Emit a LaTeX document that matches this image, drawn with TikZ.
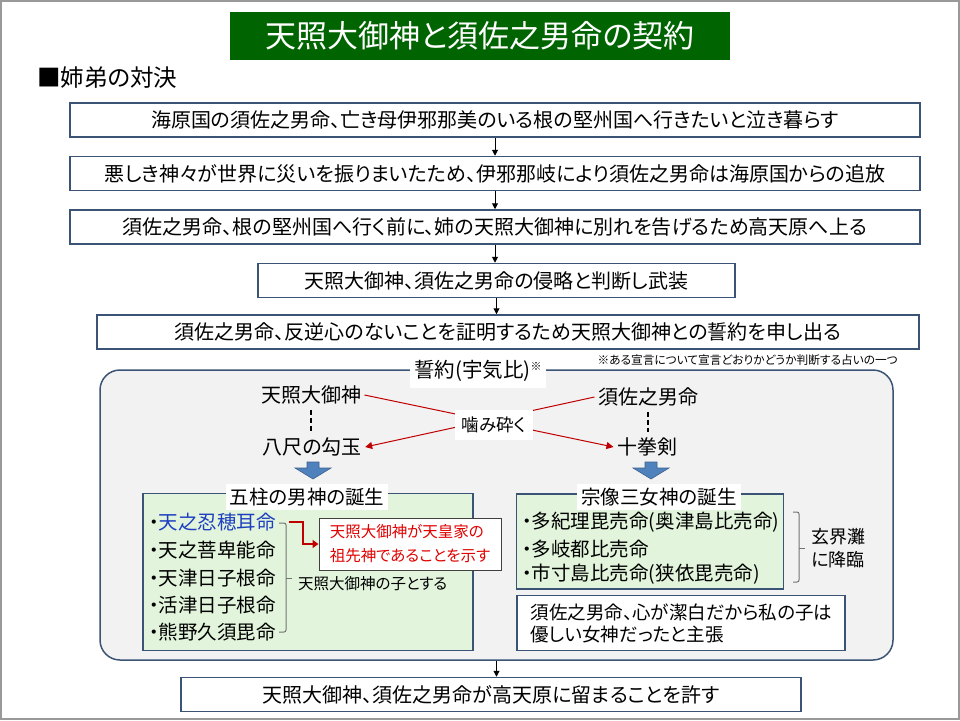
\documentclass[tikz,border=0pt]{standalone}
\usepackage{fontspec}
\setmainfont[RawFeature=+palt]{Noto Sans CJK JP}
\usetikzlibrary{arrows.meta, positioning}

\definecolor{titlegreen}{HTML}{006400}
\definecolor{frameblue}{HTML}{3B5475}
\definecolor{panelgray}{HTML}{F2F2F2}
\definecolor{leafgreen}{HTML}{E2F5DC}
\definecolor{arrowblue}{HTML}{4F81BD}
\definecolor{darkred}{HTML}{C00000}
\definecolor{brightred}{HTML}{E00000}
\definecolor{nameblue}{HTML}{1F3FC0}

\begin{document}
\begin{tikzpicture}[
    x=1pt, y=-1pt,
    font=\fontsize{20}{24}\selectfont,
    node distance=18pt,
    flow/.style={-{Triangle[length=6pt,width=6pt]}, line width=1pt},
    stepbox/.style={
        draw=frameblue,
        line width=1.5pt,
        fill=white,
        minimum height=34pt,
        minimum width=#1,
        inner sep=0pt
    },
    stepbox/.default=850pt,
    tag/.style={
        fill=white,
        inner sep=4pt,
        font=\fontsize{19.5}{23}\selectfont
    },
    leafbox/.style={
        draw=frameblue,
        line width=1.2pt,
        fill=leafgreen,
        inner sep=0pt
    },
    item/.style={
        anchor=west,
        inner sep=2pt,
        font=\fontsize{19.5}{23}\selectfont
    },
    redline/.style={
        draw=darkred,
        line width=1pt,
        -{Triangle[length=7pt,width=7pt]}
    },
    bracketline/.style={
        draw=black!55,
        line width=1pt,
        rounded corners=2pt
    },
    blockarrow/.style={
        fill=arrowblue,
        draw=arrowblue!75!black,
        line width=0.6pt
    }
]

\useasboundingbox (0,0) rectangle (960,720);
\draw[black!40, line width=2pt] (1,1) rectangle (959,719);

% title and heading
\node[fill=titlegreen, text=white, minimum width=500pt, minimum height=48pt,
      font=\fontsize{31}{35}\selectfont] (title) at (480,36) {天照大御神と須佐之男命の契約};
\node[anchor=west, inner sep=0pt, font=\fontsize{23.5}{27}\selectfont] (heading) at (37,78) {■姉弟の対決};

% story steps
\node[stepbox] (s1) at (495,120) {海原国の須佐之男命、亡き母伊邪那美のいる根の堅州国へ行きたいと泣き暮らす};
\node[stepbox, below=of s1] (s2) {悪しき神々が世界に災いを振りまいたため、伊邪那岐により須佐之男命は海原国からの追放};
\node[stepbox, below=of s2] (s3) {須佐之男命、根の堅州国へ行く前に、姉の天照大御神に別れを告げるため高天原へ上る};
\node[stepbox=477pt, below=of s3, xshift=1.5pt] (s4) {天照大御神、須佐之男命の侵略と判断し武装};
\node[stepbox=822pt, below=16pt of s4, xshift=11.5pt] (s5) {須佐之男命、反逆心のないことを証明するため天照大御神との誓約を申し出る};

\draw[flow] (s1.south) -- (s1.south |- s2.north);
\draw[flow] (s2.south) -- (s2.south |- s3.north);
\draw[flow] (s3.south) -- (s3.south |- s4.north);
\draw[flow] (s4.south) -- (s4.south |- s5.north);

% the oath panel
\node[draw=frameblue, line width=1.5pt, fill=panelgray, rounded corners=20pt,
      minimum width=793pt, minimum height=290pt] (oath) at (496.5,515) {};
\node[tag, font=\fontsize{20.5}{24}\selectfont, minimum height=33pt] (oathtag) at (478,371)
    {誓約(宇気比)\raisebox{7pt}{\fontsize{11}{12}\selectfont ※}};
\node[anchor=east, inner sep=0pt, font=\fontsize{11.7}{13}\selectfont] (oathnote) at (898,360)
    {※ある宣言について宣言どおりかどうか判断する占いの一つ};

\node (amat) at (311,395) {天照大御神};
\node (susa) at (648,397) {須佐之男命};
\node (jewel) at (312,447) {八尺の勾玉};
\node (sword) at (647,447) {十拳剣};

\draw[redline] (amat.east) -- (sword.west);
\draw[redline] (susa.west) -- (jewel.east);
\node[fill=white, minimum width=78pt, minimum height=30pt, inner sep=0pt,
      font=\fontsize{17.5}{20}\selectfont] (chew) at (494,425) {噛み砕く};

\draw[line width=1.2pt, dash pattern=on 5pt off 3pt, shorten <=2pt, shorten >=2pt] (amat) -- (amat |- jewel.north);
\draw[line width=1.2pt, dash pattern=on 5pt off 3pt, shorten <=2pt, shorten >=2pt] (susa) -- (susa |- sword.north);

\draw[blockarrow] (307,462) -- (319,462) -- (319,468) -- (331,468) -- (313,479) -- (295,468) -- (307,468) -- cycle;
\draw[blockarrow] (645,462) -- (657,462) -- (657,468) -- (669,468) -- (651,479) -- (633,468) -- (645,468) -- cycle;

% five male gods
\node[leafbox, minimum width=330pt, minimum height=157pt] (boys) at (308,572) {};
\node[tag] (boystag) at (307,497) {五柱の男神の誕生};
\node[item] (g1) at (147,522) {・\textcolor{nameblue}{天之忍穂耳命}};
\node[item] (g2) at (147,550) {・天之菩卑能命};
\node[item] (g3) at (147,578) {・天津日子根命};
\node[item] (g4) at (147,605) {・活津日子根命};
\node[item] (g5) at (147,632) {・熊野久須毘命};

\draw[bracketline] (279,523) -- (286,523) -- (286,632) -- (279,632);
\draw[bracketline] (286,578) -- (292,578);
\node[anchor=west, inner sep=0pt, font=\fontsize{15.5}{18}\selectfont] (childof) at (298,584) {天照大御神の子とする};

\node[draw=black!75, line width=1pt, fill=white, text=brightred, align=left,
      minimum width=182pt, minimum height=52pt, inner sep=0pt,
      font=\fontsize{15.5}{24}\selectfont] (imperial) at (410,544)
    {天照大御神が天皇家の\\祖先神であることを示す};
\coordinate (elbow) at (289,522);
\draw[darkred, line width=2.2pt, -{Triangle[length=6pt,width=8pt]}] (elbow) -- ++(14,0) |- (imperial.west);

% three goddesses
\node[leafbox, minimum width=267pt, minimum height=95pt] (girls) at (650,541.5) {};
\node[tag] (girlstag) at (659,497) {宗像三女神の誕生};
\node[item] (w1) at (520,522) {・多紀理毘売命(奥津島比売命)};
\node[item] (w2) at (520,549) {・多岐都比売命};
\node[item] (w3) at (520,574) {・市寸島比売命(狭依毘売命)};

\draw[bracketline] (793,512) -- (799,512) -- (799,582) -- (793,582);
\draw[bracketline] (799,548) -- (805,548);
\node[anchor=west, align=left, inner sep=0pt, font=\fontsize{18}{23}\selectfont] (genkai) at (811,548) {玄界灘\\に降臨};

\node[draw=frameblue, line width=1.5pt, fill=white, align=left, anchor=west,
      minimum width=328pt, minimum height=55pt, inner sep=0pt, text width=318pt,
      font=\fontsize{18.5}{22}\selectfont] (claim) at (516,623)
    {\hspace*{9pt}須佐之男命、心が潔白だから私の子は\\\hspace*{9pt}優しい女神だったと主張};

% result
\node[stepbox=620pt, below=16pt of oath, xshift=-5.5pt] (s6) {天照大御神、須佐之男命が高天原に留まることを許す};
\draw[flow] (oath.south) -- (oath.south |- s6.north);

\end{tikzpicture}
\end{document}
